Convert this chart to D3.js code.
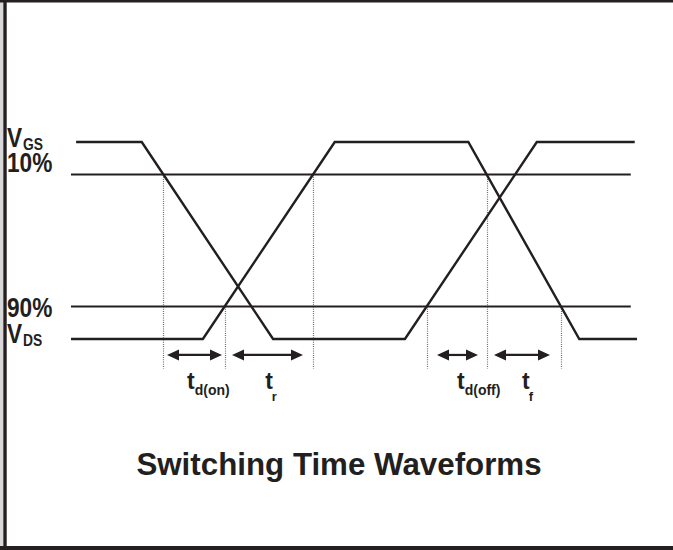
<!DOCTYPE html>
<html lang="en">
  <head>
    <meta charset="utf-8">
    <title>Switching Time Waveforms</title>
    <script src="https://cdn.jsdelivr.net/npm/d3@7"></script>
    <style>
      body { margin: 0; background: #fff; }
      text { font-family: "Liberation Sans", Arial, sans-serif; font-weight: bold; fill: #231f20; }
    </style>
  </head>
  <body>
    <script>
    // waveform corners: time (0..100) and level (0 = low, 1 = high)
    var waveATimes = [0.9, 12.5, 35.7, 59.0, 82.3, 99.6];
    var waveALevels = [1, 1, 0, 0, 1, 1];
    var waveBTimes = [0, 23.3, 46.6, 70.2, 89.8, 100];
    var waveBLevels = [0, 0, 1, 1, 0, 0];

    // threshold lines
    var thresholdNames = ["10%", "90%"];
    var thresholdLevels = [0.835, 0.165];
    var thresholdStart = 0;
    var thresholdEnd = 98.9;

    // dotted markers: which wave, which segment, which threshold
    var markerWaves = ["A", "B", "B", "A", "B", "B"];
    var markerSegments = [1, 1, 1, 3, 3, 3];
    var markerLevels = [0.835, 0.165, 0.835, 0.165, 0.835, 0.165];
    var markerBottom = -0.15;

    // timing intervals
    var intervalNames = ["d(on)", "r", "d(off)", "f"];
    var intervalStarts = [16.96, 28.45, 64.66, 74.73];
    var intervalEnds = [26.68, 40.99, 71.91, 84.63];
    var labelTimes = [20.5, 34.3, 68.2, 79.7];
    var arrowLevel = -0.081;

    var w = 673;
    var h = 550;
    var ink = "#231f20";

    var svg = d3.select("body").append("svg").attr("width", w).attr("height", h);

    var x = d3.scaleLinear().domain([0, 100]).range([71, 637]);
    var y = d3.scaleLinear().domain([0, 1]).range([339, 142]);

    // frame
    svg.append("line").attr("x1", 1.5).attr("x2", 1.5).attr("y1", 0).attr("y2", h)
      .attr("stroke", "#d8d8d8").attr("stroke-width", 3);
    svg.append("line").attr("x1", 0).attr("x2", w).attr("y1", 1.25).attr("y2", 1.25)
      .attr("stroke", ink).attr("stroke-width", 2.5);
    svg.append("line").attr("x1", 5).attr("x2", 5).attr("y1", 0).attr("y2", h)
      .attr("stroke", ink).attr("stroke-width", 3.4);
    svg.append("line").attr("x1", 0).attr("x2", w).attr("y1", 548).attr("y2", 548)
      .attr("stroke", ink).attr("stroke-width", 4);

    var waves = {
      A: waveATimes.map(function(t, i) { return [t, waveALevels[i]]; }),
      B: waveBTimes.map(function(t, i) { return [t, waveBLevels[i]]; })
    };

    // dotted markers (drawn first so lines sit on top)
    var markers = markerWaves.map(function(wv, i) {
      var p = waves[wv][markerSegments[i]], q = waves[wv][markerSegments[i] + 1];
      var f = (markerLevels[i] - p[1]) / (q[1] - p[1]);
      return { t: p[0] + f * (q[0] - p[0]), level: markerLevels[i] };
    });
    svg.selectAll("line.marker").data(markers).enter().append("line")
      .attr("class", "marker")
      .attr("x1", function(d) { return Math.round(x(d.t)) + 0.5; })
      .attr("x2", function(d) { return Math.round(x(d.t)) + 0.5; })
      .attr("y1", function(d) { return y(d.level); })
      .attr("y2", y(markerBottom))
      .attr("stroke", "#6e6e6e").attr("stroke-width", 1.2)
      .attr("stroke-dasharray", "1,1.2");

    // threshold lines
    svg.selectAll("line.threshold").data(thresholdLevels).enter().append("line")
      .attr("class", "threshold")
      .attr("x1", x(thresholdStart)).attr("x2", x(thresholdEnd))
      .attr("y1", function(d) { return y(d); })
      .attr("y2", function(d) { return y(d); })
      .attr("stroke", ink).attr("stroke-width", 2.2);

    // waveforms
    var line = d3.line().x(function(d) { return x(d[0]); }).y(function(d) { return y(d[1]); });
    svg.selectAll("path.wave").data([waves.A, waves.B]).enter().append("path")
      .attr("class", "wave")
      .attr("d", line)
      .attr("fill", "none").attr("stroke", ink).attr("stroke-width", 2.4)
      .attr("stroke-linejoin", "miter");

    // double-headed arrows
    var head = 12, half = 5.5;
    var ay = y(arrowLevel);
    intervalNames.forEach(function(name, i) {
      var a = x(intervalStarts[i]), b = x(intervalEnds[i]);
      svg.append("line").attr("x1", a + head - 1).attr("x2", b - head + 1)
        .attr("y1", ay).attr("y2", ay).attr("stroke", ink).attr("stroke-width", 2.2);
      svg.append("path")
        .attr("d", "M" + a + "," + ay + "L" + (a + head) + "," + (ay - half) + "L" + (a + head) + "," + (ay + half) + "Z")
        .attr("fill", ink);
      svg.append("path")
        .attr("d", "M" + b + "," + ay + "L" + (b - head) + "," + (ay - half) + "L" + (b - head) + "," + (ay + half) + "Z")
        .attr("fill", ink);

      var lab = svg.append("text").attr("x", x(labelTimes[i])).attr("y", 389).attr("font-size", "23px");
      lab.append("tspan").text("t");
      lab.append("tspan").attr("font-size", name.length > 1 ? "14px" : "13px")
        .attr("dy", name.length > 1 ? 6 : 12).attr("dx", name.length > 1 ? 0 : -1).text(name);
    });

    // left labels, horizontally condensed like the original lettering
    function leftLabel(main, sub, yy) {
      var t = svg.append("text").attr("transform", "translate(7," + yy + ") scale(0.84,1)")
        .attr("font-size", "27px");
      t.append("tspan").text(main);
      if (sub) {
        t.append("tspan").attr("font-size", "16.5px").attr("dx", 1).attr("dy", 3).text(sub);
      }
    }
    leftLabel("V", "GS", 147);
    leftLabel(thresholdNames[0], null, 172);
    leftLabel(thresholdNames[1], null, 317);
    leftLabel("V", "DS", 343);

    // title
    svg.append("text").attr("x", 339).attr("y", 475).attr("text-anchor", "middle")
      .attr("font-size", "31.3px").text("Switching Time Waveforms");
    </script>
  </body>
</html>
